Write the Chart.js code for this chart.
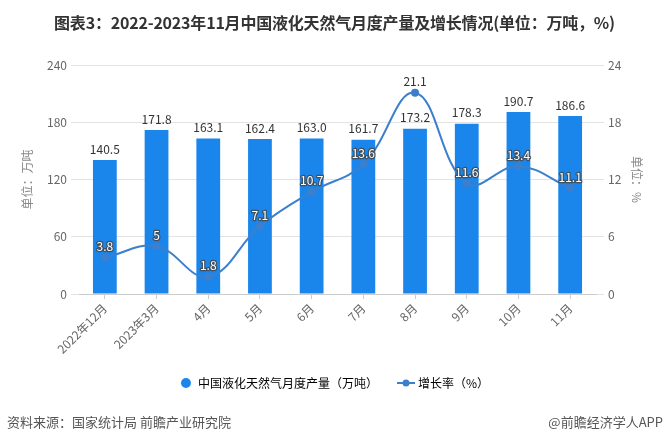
<!DOCTYPE html>
<html>
<head>
<meta charset="utf-8">
<script src="https://cdn.jsdelivr.net/npm/chart.js@4.4.0/dist/chart.umd.min.js"></script>
<style>
body { margin: 0; background: #fff; }
#wrap { position: relative; width: 669px; height: 440px; font-family: "Microsoft YaHei", "Noto Sans CJK SC", sans-serif; }
#title { position: absolute; left: 0; top: 10px; width: 669px; text-align: center; font-size: 16px; font-weight: bold; color: #333; letter-spacing: -0.2px; }
.foot { position: absolute; top: 412px; font-size: 13px; color: #555; }
#src { left: 7px; }
#brand { right: 6px; }
canvas { position: absolute; left: 0; top: 0; }
</style>
</head>
<body>
<div id="wrap">
  <canvas id="myChart" width="669" height="440"></canvas>
  <div id="title">图表3：2022-2023年11月中国液化天然气月度产量及增长情况(单位：万吨，%)</div>
  <div class="foot" id="src">资料来源：国家统计局 前瞻产业研究院</div>
  <div class="foot" id="brand">@前瞻经济学人APP</div>
</div>
<script>
// chart data
let months = ['2022年12月', '2023年3月', '4月', '5月', '6月', '7月', '8月', '9月', '10月', '11月'];
let production = [140.5, 171.8, 163.1, 162.4, 163.0, 161.7, 173.2, 178.3, 190.7, 186.6];
let growth = [3.8, 5, 1.8, 7.1, 10.7, 13.6, 21.1, 11.6, 13.4, 11.1];
let leftTicks = [0, 60, 120, 180, 240];
let rightTicks = [0, 6, 12, 18, 24];

let barColor = '#1a86ec',
    lineColor = '#3c7fcc',
    fontFamily = '"Microsoft YaHei", "Noto Sans CJK SC", sans-serif';

// little icon for the line legend item: line with a dot
function lineIcon() {
    let c = document.createElement('canvas');
    c.width = 18; c.height = 10;
    let g = c.getContext('2d');
    g.strokeStyle = lineColor;
    g.lineWidth = 2;
    g.beginPath(); g.moveTo(0, 5); g.lineTo(18, 5); g.stroke();
    g.fillStyle = lineColor;
    g.beginPath(); g.arc(9, 5, 3.5, 0, Math.PI * 2); g.fill();
    return c;
}

// value labels above bars and line points
const valueLabels = {
    id: 'valueLabels',
    afterDatasetsDraw(chart) {
        let ctx = chart.ctx;
        let bars = chart.getDatasetMeta(0).data;
        let points = chart.getDatasetMeta(1).data;
        ctx.save();
        ctx.font = '12px ' + fontFamily;
        ctx.textAlign = 'center';
        ctx.textBaseline = 'middle';
        bars.forEach((bar, i) => {
            ctx.fillStyle = '#333';
            ctx.fillText(production[i].toFixed(1), bar.x, bar.y - 11);
        });
        points.forEach((pt, i) => {
            let y = pt.y - 11;
            let txt = String(growth[i]);
            if (y > bars[i].y) {
                // sits on a bar: white text with dark outline
                ctx.lineWidth = 2.5;
                ctx.lineJoin = 'round';
                ctx.strokeStyle = 'rgba(70,70,70,0.85)';
                ctx.strokeText(txt, pt.x, y);
                ctx.fillStyle = '#fff';
            } else {
                ctx.fillStyle = '#333';
            }
            ctx.fillText(txt, pt.x, y);
        });
        ctx.restore();
    }
};

let ctx = document.getElementById('myChart').getContext('2d');
let myChart = new Chart(ctx, {
    data: {
        labels: months,
        datasets: [{
            type: 'bar',
            label: '中国液化天然气月度产量（万吨）',
            data: production,
            backgroundColor: barColor,
            yAxisID: 'y',
            barPercentage: 0.92,
            categoryPercentage: 0.5,
            order: 1
        }, {
            type: 'line',
            label: '增长率（%）',
            data: growth,
            borderColor: lineColor,
            backgroundColor: lineColor,
            borderWidth: 2,
            tension: 0.4,
            pointRadius: 4,
            pointBackgroundColor: lineColor,
            pointBorderWidth: 0,
            yAxisID: 'y1',
            order: 0
        }]
    },
    options: {
        responsive: false,
        animation: false,
        layout: { padding: { top: 65, bottom: 41, left: 0, right: 0 } },
        plugins: {
            tooltip: { enabled: false },
            legend: {
                position: 'bottom',
                labels: {
                    usePointStyle: true,
                    boxHeight: 7,
                    padding: 22,
                    color: '#333',
                    font: { size: 12, family: fontFamily },
                    generateLabels(chart) {
                        return [{
                            text: chart.data.datasets[0].label,
                            fillStyle: barColor,
                            strokeStyle: barColor,
                            lineWidth: 0,
                            pointStyle: 'circle',
                            datasetIndex: 0
                        }, {
                            text: chart.data.datasets[1].label,
                            fillStyle: lineColor,
                            strokeStyle: lineColor,
                            lineWidth: 0,
                            pointStyle: lineIcon(),
                            datasetIndex: 1
                        }];
                    }
                }
            }
        },
        scales: {
            x: {
                grid: { drawOnChartArea: false, offset: false, tickLength: 5, color: '#ccc' },
                border: { color: '#ccc' },
                ticks: { maxRotation: 45, minRotation: 45, color: '#666', font: { size: 12, family: fontFamily }, padding: 2 },
                afterFit(scale) { scale.height = 61; }
            },
            y: {
                position: 'left',
                min: 0,
                max: 240,
                afterBuildTicks(scale) { scale.ticks = leftTicks.map(v => ({ value: v })); },
                ticks: { color: '#666', font: { size: 12, family: fontFamily }, padding: 4 },
                grid: { color: '#e3e3e3', tickLength: 8 },
                border: { display: false },
                title: { display: true, text: '单位：万吨', color: '#888', font: { size: 12, family: fontFamily }, padding: { top: 20, bottom: 0 } },
                afterFit(scale) { scale.width = 79; }
            },
            y1: {
                position: 'right',
                min: 0,
                max: 24,
                afterBuildTicks(scale) { scale.ticks = rightTicks.map(v => ({ value: v })); },
                ticks: { color: '#666', font: { size: 12, family: fontFamily }, padding: 4 },
                grid: { drawOnChartArea: false, color: '#e3e3e3', tickLength: 8 },
                border: { display: false },
                title: { display: true, text: '单位：%', color: '#888', font: { size: 12, family: fontFamily }, padding: { top: 25, bottom: 0 } },
                afterFit(scale) { scale.width = 73; }
            }
        }
    },
    plugins: [valueLabels]
});
</script>
</body>
</html>
